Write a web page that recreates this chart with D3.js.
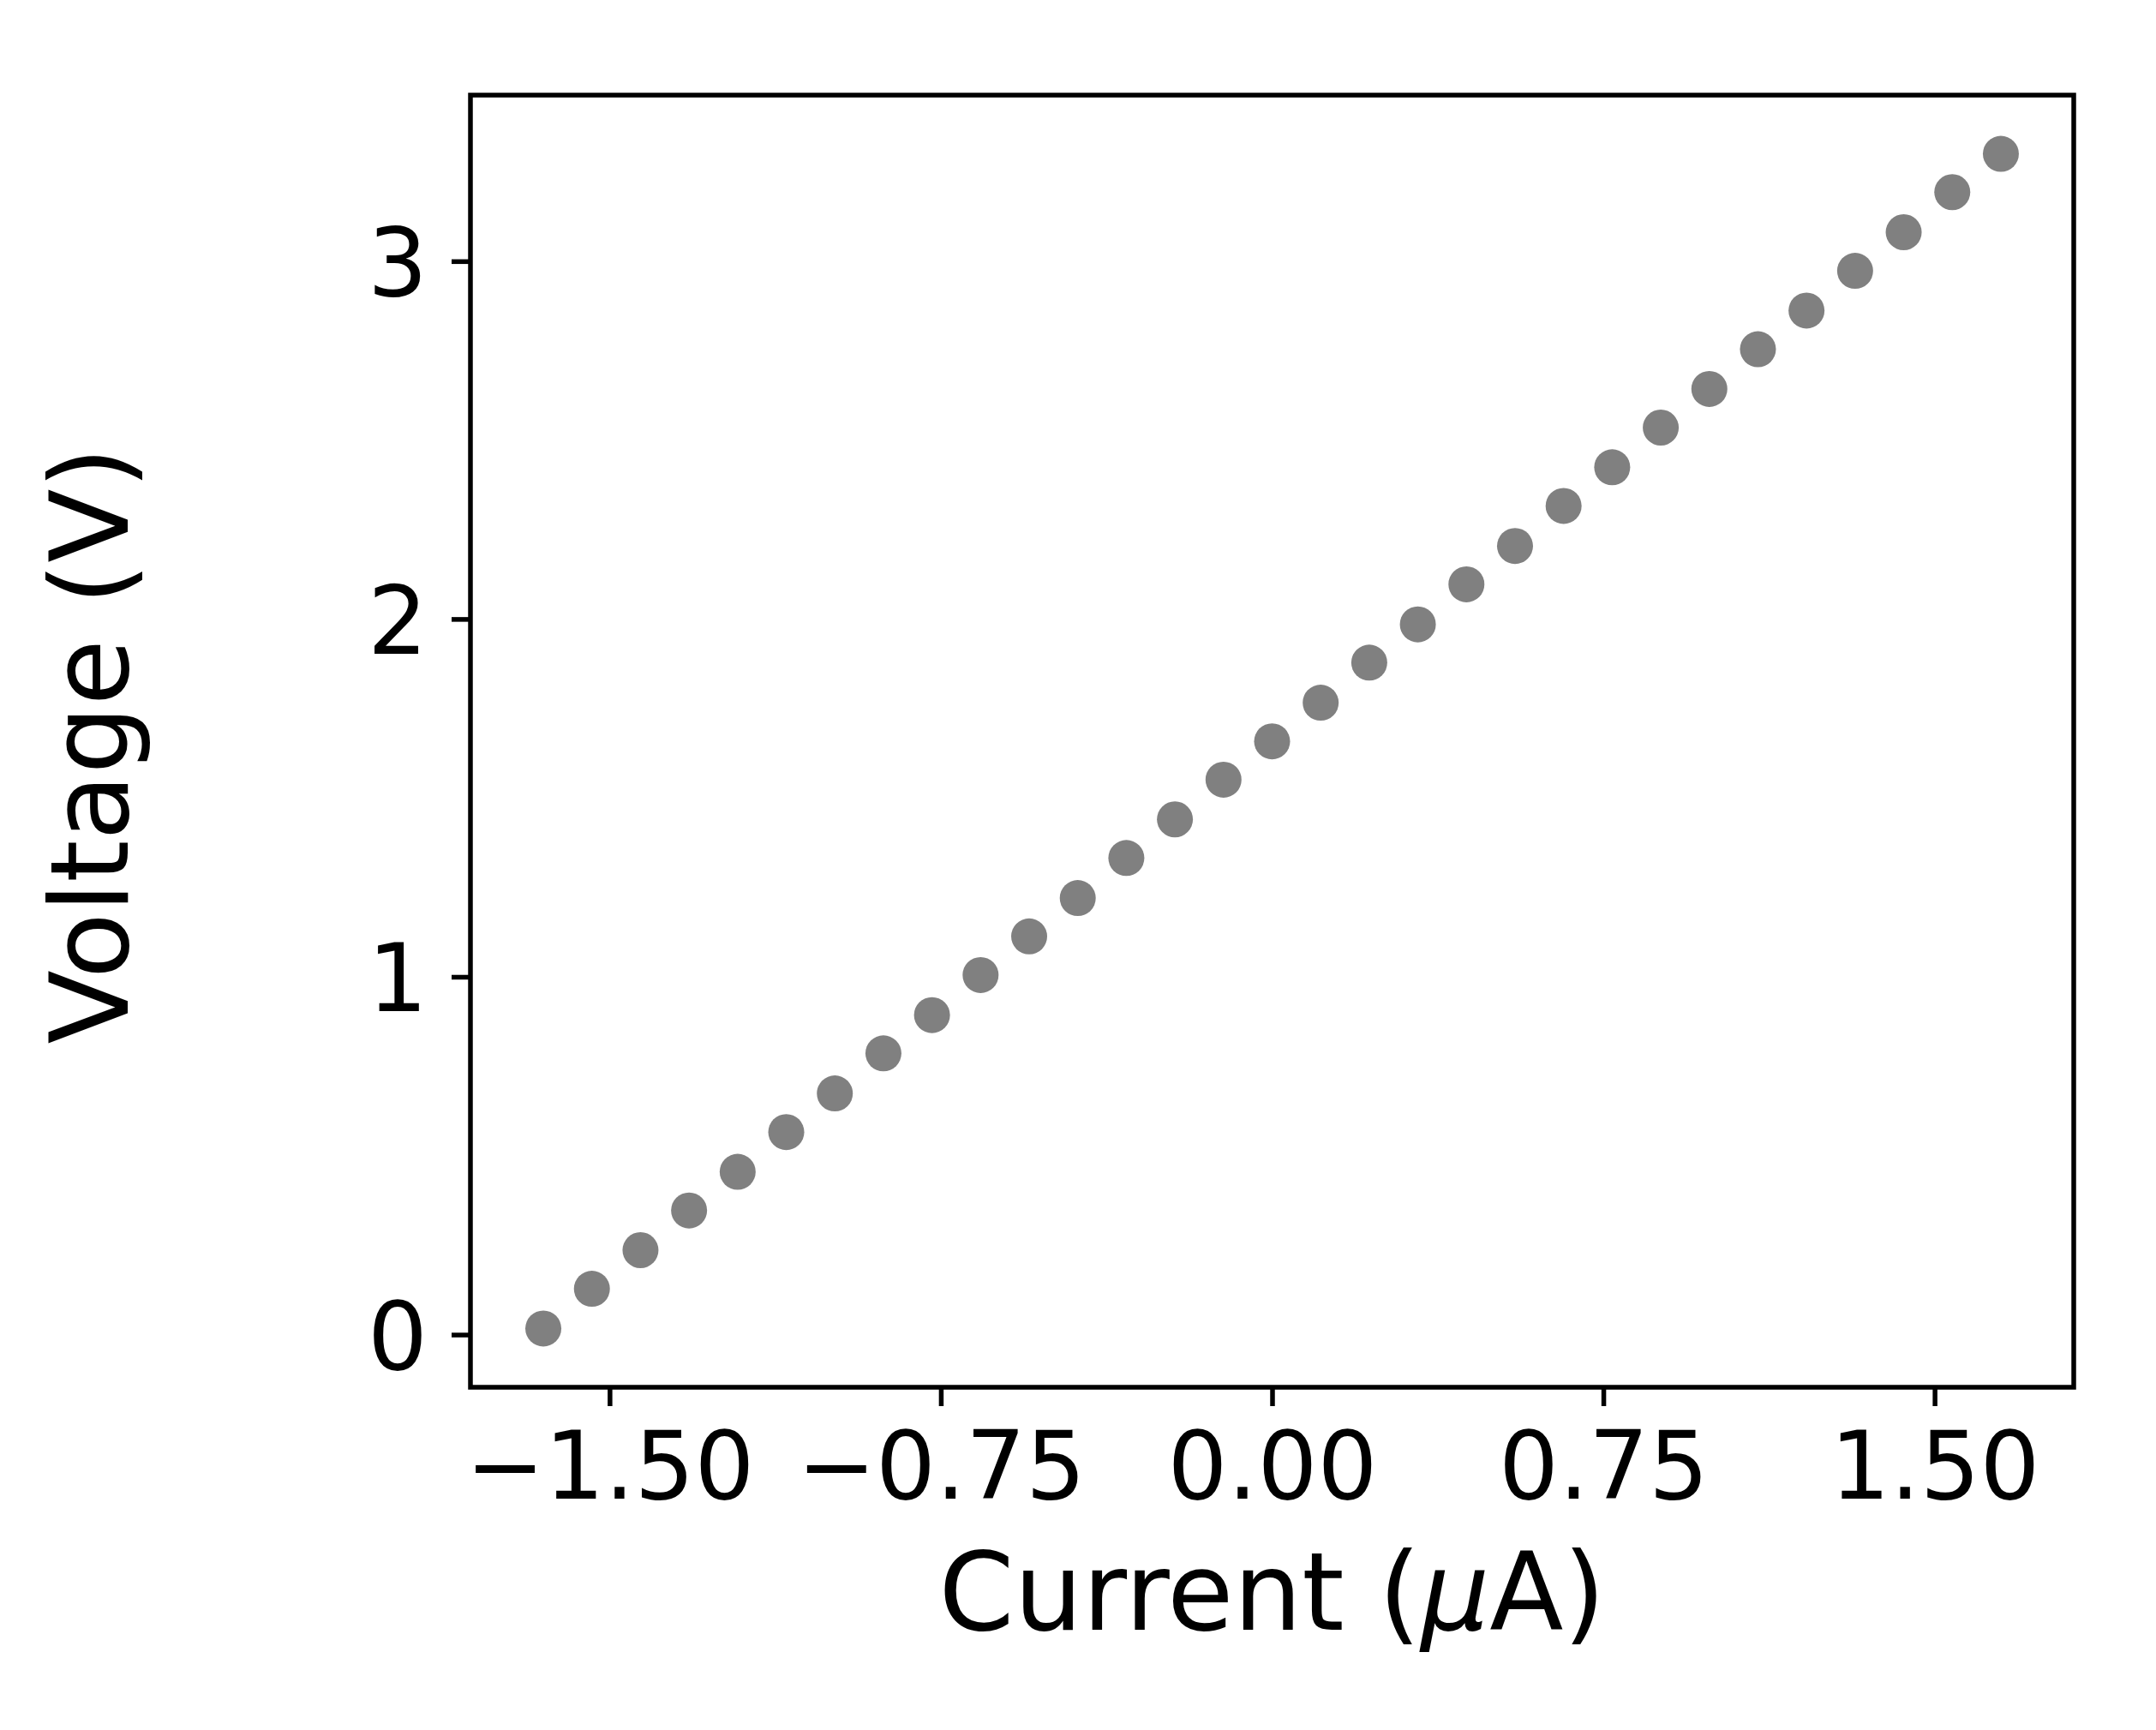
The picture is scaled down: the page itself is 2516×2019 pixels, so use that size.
<!DOCTYPE html>
<html>
<head>
<meta charset="utf-8">
<title>Voltage vs Current</title>
<script src="https://d3js.org/d3.v7.min.js"></script>
<style>
body { margin: 0; background: #fff; }
.axis text { font-family: "DejaVu Sans", sans-serif; font-size: 110px; fill: #000; }
.axis line { stroke: #000; stroke-width: 5.5px; }
.axis path { display: none; }
.label { font-family: "DejaVu Sans", sans-serif; font-size: 126px; fill: #000; }
</style>
</head>
<body>
<div id="chart"></div>
<script>
var current = [-1.65, -1.54, -1.43, -1.32, -1.21, -1.10, -0.99, -0.88, -0.77, -0.66,
  -0.55, -0.44, -0.33, -0.22, -0.11, 0.00, 0.11, 0.22, 0.33, 0.44,
  0.55, 0.66, 0.77, 0.88, 0.99, 1.10, 1.21, 1.32, 1.43, 1.54, 1.65];
var voltage = [0.017, 0.128, 0.236, 0.347, 0.455, 0.566, 0.674, 0.786, 0.893, 1.005,
  1.113, 1.220, 1.332, 1.440, 1.551, 1.658, 1.766, 1.878, 1.985, 2.097,
  2.204, 2.316, 2.424, 2.535, 2.643, 2.754, 2.862, 2.973, 3.081, 3.193, 3.300];
var xTicks = [-1.5, -0.75, 0, 0.75, 1.5];
var yTicks = [0, 1, 2, 3];

var W = 2516, H = 2019;
var margin = {top: 111, right: 96, bottom: 400, left: 549};
var width = W - margin.left - margin.right,
    height = H - margin.top - margin.bottom;

var data = current.map(function(c, i) { return {I: c, V: voltage[i]}; });

// matplotlib style 5% margins
var xr = d3.extent(current), yr = d3.extent(voltage);
var xpad = (xr[1] - xr[0]) * 0.05, ypad = (yr[1] - yr[0]) * 0.05;

var x = d3.scaleLinear().domain([xr[0] - xpad, xr[1] + xpad]).range([0, width]);
var y = d3.scaleLinear().domain([yr[0] - ypad, yr[1] + ypad]).range([height, 0]);

var svg = d3.select("#chart").append("svg")
    .attr("width", W)
    .attr("height", H)
    .style("background", "#fff")
  .append("g")
    .attr("transform", "translate(" + margin.left + "," + margin.top + ")");

// points
svg.selectAll("circle")
    .data(data)
  .enter().append("circle")
    .attr("cx", function(d) { return x(d.I); })
    .attr("cy", function(d) { return y(d.V); })
    .attr("r", 21)
    .attr("fill", "#808080");

// axes
var xAxis = svg.append("g")
    .attr("class", "axis")
    .attr("transform", "translate(0," + height + ")")
    .call(d3.axisBottom(x).tickValues(xTicks).tickFormat(d3.format(".2f"))
      .tickSize(22).tickSizeOuter(0).tickPadding(30));

var yAxis = svg.append("g")
    .attr("class", "axis")
    .call(d3.axisLeft(y).tickValues(yTicks).tickFormat(d3.format("d"))
      .tickSize(22).tickSizeOuter(0).tickPadding(28));
yAxis.selectAll("text").attr("dy", "0.36em");

// frame
svg.append("rect")
    .attr("width", width)
    .attr("height", height)
    .attr("fill", "none")
    .attr("stroke", "#000")
    .attr("stroke-width", 5.5);

// axis labels
var xl = svg.append("text")
    .attr("class", "label")
    .attr("x", width / 2)
    .attr("y", 1902 - margin.top)
    .attr("text-anchor", "middle");
xl.append("tspan").text("Current (");
xl.append("tspan").style("font-style", "italic").text("\u03bc");
xl.append("tspan").text("A)");

svg.append("text")
    .attr("class", "label")
    .attr("transform", "translate(" + (149 - margin.left) + "," + (height / 2 + 5) + ") rotate(-90)")
    .attr("text-anchor", "middle")
    .text("Voltage (V)");
</script>
</body>
</html>
